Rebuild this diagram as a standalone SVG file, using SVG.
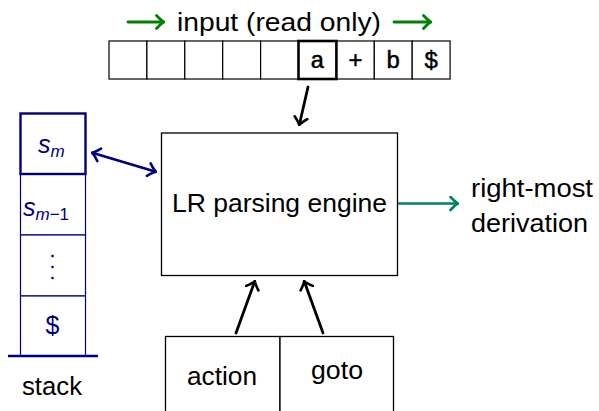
<svg xmlns="http://www.w3.org/2000/svg" width="599" height="411" viewBox="0 0 599 411">
  <style>
    text { font-family: "Liberation Sans", Arial, sans-serif; font-size: 25px; fill: #000; }
    text.mono { font-family: "Liberation Mono", "DejaVu Sans Mono", monospace; font-size: 24px; text-anchor: middle; stroke: #000; stroke-width: 0.5; }
    .cell { fill: #fff; stroke: #000; stroke-width: 1.2; }
    .stk { fill: #fff; stroke: #00007f; stroke-width: 1.2; }
    .blue { fill: #00007f; }
    .arr { fill: none; stroke-width: 2.8; stroke-linecap: round; }
  </style>
  <defs>
    <marker id="tipK" viewBox="-8 -8 10 16" refX="0" refY="0" markerWidth="10" markerHeight="16" markerUnits="userSpaceOnUse" orient="auto-start-reverse">
      <path d="M-6.5,-6.5 Q-1.5,-1.2 1,0 Q-1.5,1.2 -6.5,6.5" fill="none" stroke="#000" stroke-width="2.6" stroke-linecap="round"/>
    </marker>
    <marker id="tipB" viewBox="-8 -8 10 16" refX="0" refY="0" markerWidth="10" markerHeight="16" markerUnits="userSpaceOnUse" orient="auto-start-reverse">
      <path d="M-6.5,-6.5 Q-1.5,-1.2 1,0 Q-1.5,1.2 -6.5,6.5" fill="none" stroke="#00007f" stroke-width="2.6" stroke-linecap="round"/>
    </marker>
    <marker id="tipG" viewBox="-8 -8 10 16" refX="0" refY="0" markerWidth="10" markerHeight="16" markerUnits="userSpaceOnUse" orient="auto">
      <path d="M-6.5,-6.5 Q-1.5,-1.2 1,0 Q-1.5,1.2 -6.5,6.5" fill="none" stroke="#008000" stroke-width="2.8" stroke-linecap="round"/>
    </marker>
    <marker id="tipT" viewBox="-8 -8 10 16" refX="0" refY="0" markerWidth="10" markerHeight="16" markerUnits="userSpaceOnUse" orient="auto">
      <path d="M-6.5,-6.5 Q-1.5,-1.2 1,0 Q-1.5,1.2 -6.5,6.5" fill="none" stroke="#008066" stroke-width="2.6" stroke-linecap="round"/>
    </marker>
  </defs>

  <!-- input tape -->
  <g id="input">
    <rect class="cell" x="109" y="41" width="37.9" height="38"/>
    <rect class="cell" x="146.9" y="41" width="37.9" height="38"/>
    <rect class="cell" x="184.8" y="41" width="37.9" height="38"/>
    <rect class="cell" x="222.7" y="41" width="37.9" height="38"/>
    <rect class="cell" x="260.6" y="41" width="37.9" height="38"/>
    <rect class="cell" x="336.4" y="41" width="37.9" height="38"/>
    <rect class="cell" x="374.3" y="41" width="37.9" height="38"/>
    <rect class="cell" x="412.2" y="41" width="37.9" height="38"/>
    <rect x="298.5" y="41" width="37.9" height="38" fill="#fff" stroke="#000" stroke-width="2.6"/>
    <text class="mono" x="317.5" y="68">a</text>
    <text class="mono" x="355.4" y="68">+</text>
    <text class="mono" x="393.3" y="68">b</text>
    <text class="mono" x="431.2" y="68">$</text>
    <text x="177" y="31" textLength="204" lengthAdjust="spacingAndGlyphs">input (read only)</text>
  </g>

  <!-- stack -->
  <g id="stack">
    <rect class="stk" x="20.5" y="174" width="65" height="61"/>
    <rect class="stk" x="20.5" y="235" width="65" height="61"/>
    <rect class="stk" x="20.5" y="296" width="65" height="60"/>
    <rect x="20.5" y="113.5" width="65" height="60.5" fill="#fff" stroke="#00007f" stroke-width="2.4"/>
    <line x1="8" y1="356" x2="98" y2="356" stroke="#00007f" stroke-width="2.6"/>
    <text class="blue" x="38" y="153" font-style="italic" font-size="24">s<tspan font-size="17" dy="4">m</tspan></text>
    <text class="blue" x="23" y="216" font-style="italic" font-size="24">s<tspan font-size="17" dy="4">m</tspan><tspan font-style="normal" font-size="17">−1</tspan></text>
    <circle class="blue" cx="52.5" cy="256" r="1.3"/>
    <circle class="blue" cx="52.5" cy="267" r="1.3"/>
    <circle class="blue" cx="52.5" cy="278" r="1.3"/>
    <text class="blue" x="52.5" y="334" text-anchor="middle" font-size="24">$</text>
    <text x="22" y="395" textLength="60" lengthAdjust="spacingAndGlyphs">stack</text>
  </g>

  <!-- parsing engine -->
  <g id="engine">
    <rect x="161.5" y="133" width="236" height="142.5" fill="#fff" stroke="#000" stroke-width="1.3"/>
    <text x="172" y="212" font-size="26" textLength="215" lengthAdjust="spacingAndGlyphs">LR parsing engine</text>
  </g>

  <!-- parse tables -->
  <g id="action">
    <rect x="165.5" y="336.5" width="114.5" height="90" fill="#fff" stroke="#000" stroke-width="1.3"/>
    <text x="187" y="385" textLength="70" lengthAdjust="spacingAndGlyphs">action</text>
  </g>
  <g id="goto">
    <rect x="280" y="336.5" width="113.5" height="90" fill="#fff" stroke="#000" stroke-width="1.3"/>
    <text x="311" y="379" textLength="52" lengthAdjust="spacingAndGlyphs">goto</text>
  </g>

  <!-- output -->
  <g id="output">
    <text x="471" y="197" textLength="122" lengthAdjust="spacingAndGlyphs">right-most</text>
    <text x="471" y="232" textLength="117" lengthAdjust="spacingAndGlyphs">derivation</text>
  </g>

  <!-- connectors -->
  <g id="connectors">
    <line class="arr" stroke="#008000" x1="128" y1="22" x2="163" y2="22" marker-end="url(#tipG)"/>
    <line class="arr" stroke="#008000" x1="394" y1="22" x2="430" y2="22" marker-end="url(#tipG)"/>
    <line class="arr" stroke="#000" x1="308" y1="87" x2="299.5" y2="124" marker-end="url(#tipK)"/>
    <line class="arr" stroke="#00007f" x1="93" y1="153" x2="155" y2="171.5" marker-start="url(#tipB)" marker-end="url(#tipB)"/>
    <line class="arr" stroke="#000" x1="236" y1="333" x2="254.5" y2="282" marker-end="url(#tipK)"/>
    <line class="arr" stroke="#000" x1="323" y1="333" x2="304.5" y2="282" marker-end="url(#tipK)"/>
    <line stroke="#008066" stroke-width="2.6" x1="398" y1="203.5" x2="457" y2="203.5" marker-end="url(#tipT)"/>
  </g>
</svg>
